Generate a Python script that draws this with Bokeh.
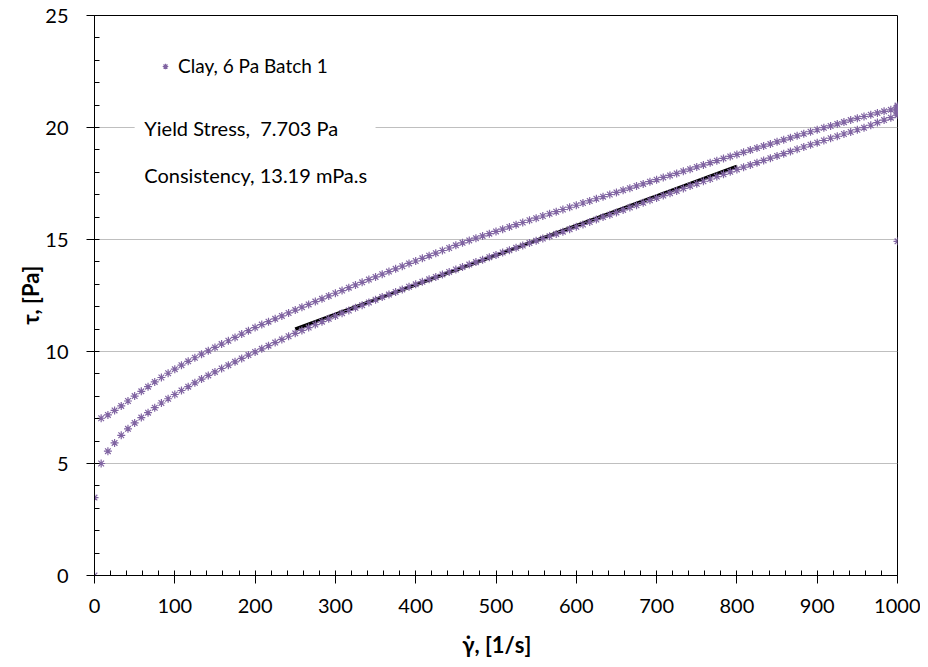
from bokeh.plotting import figure
from bokeh.models import (Range1d, SingleIntervalTicker, ColumnDataSource, Legend, LegendItem,
                          Label, BoxAnnotation)
from bokeh.embed import file_html
from bokeh.resources import INLINE

# ---- data ----
rate = [8.3, 16.7, 25.0, 33.3, 41.7, 50.0, 58.3, 66.7, 75.0, 83.3,
        91.7, 100.0, 108.3, 116.7, 125.0, 133.3, 141.7, 150.0, 158.3, 166.7,
        175.0, 183.3, 191.7, 200.0, 208.3, 216.7, 225.0, 233.3, 241.7, 250.0,
        258.3, 266.7, 275.0, 283.3, 291.7, 300.0, 308.3, 316.7, 325.0, 333.3,
        341.7, 350.0, 358.3, 366.7, 375.0, 383.3, 391.7, 400.0, 408.3, 416.7,
        425.0, 433.3, 441.7, 450.0, 458.3, 466.7, 475.0, 483.3, 491.7, 500.0,
        508.3, 516.7, 525.0, 533.3, 541.7, 550.0, 558.3, 566.7, 575.0, 583.3,
        591.7, 600.0, 608.3, 616.7, 625.0, 633.3, 641.7, 650.0, 658.3, 666.7,
        675.0, 683.3, 691.7, 700.0, 708.3, 716.7, 725.0, 733.3, 741.7, 750.0,
        758.3, 766.7, 775.0, 783.3, 791.7, 800.0, 808.3, 816.7, 825.0, 833.3,
        841.7, 850.0, 858.3, 866.7, 875.0, 883.3, 891.7, 900.0, 908.3, 916.7,
        925.0, 933.3, 941.7, 950.0, 958.3, 966.7, 975.0, 983.3, 991.7, 1000.0]

stress_up = [5.00, 5.55, 5.92, 6.26, 6.55, 6.81, 7.05, 7.27, 7.49, 7.70,
             7.89, 8.08, 8.26, 8.43, 8.60, 8.77, 8.93, 9.09, 9.24, 9.39,
             9.54, 9.69, 9.84, 9.98, 10.12, 10.26, 10.40, 10.54, 10.68, 10.81,
             10.94, 11.07, 11.20, 11.33, 11.46, 11.59, 11.71, 11.83, 11.95, 12.07,
             12.19, 12.31, 12.43, 12.54, 12.66, 12.77, 12.89, 13.00, 13.11, 13.22,
             13.33, 13.44, 13.55, 13.66, 13.77, 13.88, 13.99, 14.10, 14.21, 14.31,
             14.42, 14.52, 14.63, 14.73, 14.84, 14.94, 15.04, 15.15, 15.25, 15.35,
             15.46, 15.57, 15.67, 15.78, 15.89, 16.00, 16.10, 16.21, 16.32, 16.43,
             16.53, 16.64, 16.75, 16.85, 16.96, 17.07, 17.17, 17.28, 17.39, 17.49,
             17.60, 17.70, 17.81, 17.91, 18.02, 18.13, 18.23, 18.33, 18.43, 18.53,
             18.63, 18.73, 18.83, 18.93, 19.03, 19.13, 19.23, 19.32, 19.42, 19.52,
             19.61, 19.71, 19.80, 19.90, 19.99, 20.10, 20.22, 20.33, 20.44, 20.55]

stress_down = [7.02, 7.17, 7.37, 7.57, 7.79, 8.01, 8.22, 8.43, 8.64, 8.84,
               9.03, 9.21, 9.39, 9.56, 9.72, 9.88, 10.03, 10.18, 10.33, 10.48,
               10.63, 10.78, 10.93, 11.07, 11.20, 11.33, 11.46, 11.59, 11.72, 11.85,
               11.98, 12.10, 12.23, 12.35, 12.48, 12.60, 12.72, 12.85, 12.97, 13.09,
               13.21, 13.33, 13.45, 13.57, 13.69, 13.81, 13.93, 14.04, 14.16, 14.28,
               14.39, 14.51, 14.62, 14.74, 14.85, 14.96, 15.06, 15.16, 15.26, 15.36,
               15.46, 15.56, 15.66, 15.76, 15.86, 15.95, 16.05, 16.15, 16.24, 16.34,
               16.44, 16.53, 16.63, 16.72, 16.82, 16.91, 17.01, 17.10, 17.20, 17.29,
               17.39, 17.48, 17.58, 17.67, 17.77, 17.86, 17.95, 18.05, 18.14, 18.24,
               18.33, 18.43, 18.52, 18.62, 18.71, 18.80, 18.89, 18.99, 19.08, 19.17,
               19.26, 19.36, 19.45, 19.54, 19.63, 19.72, 19.81, 19.90, 19.99, 20.07,
               20.16, 20.24, 20.33, 20.41, 20.49, 20.57, 20.65, 20.72, 20.79, 20.86]

start_rate = [0.0, 0.0]
start_stress = [0.0, 3.48]
hold_rate = [1000.0, 1000.0, 1000.0, 1000.0, 1000.0, 1000.0, 1000.0, 1000.0]
hold_stress = [20.62, 20.68, 20.74, 20.80, 20.86, 20.92, 20.98, 14.92]

fit_rate = [250.0, 800.0]
fit_stress = [11.0, 18.26]

series_name = "Clay, 6 Pa Batch 1"
yield_text = "Yield Stress,\u00a0 7.703 Pa"
consistency_text = "Consistency, 13.19 mPa.s"

# ---- figure ----
FONT = "Lato"
PURPLE = "#8064A2"

p = figure(width=920, height=660, output_backend="svg", toolbar_location=None,
           x_range=Range1d(0, 1000), y_range=Range1d(0, 25),
           min_border_left=94, min_border_right=23, min_border_top=15, min_border_bottom=85)
p.background_fill_color = "white"
p.border_fill_color = "white"
p.outline_line_color = "black"
p.outline_line_width = 1

# grid
p.xgrid.visible = False
p.ygrid.grid_line_color = "#BFBFBF"
p.ygrid.grid_line_width = 1

# axes
p.xaxis.ticker = SingleIntervalTicker(interval=100, num_minor_ticks=5)
p.yaxis.ticker = SingleIntervalTicker(interval=5, num_minor_ticks=5)
for ax in (p.xaxis[0], p.yaxis[0]):
    ax.axis_line_color = "black"
    ax.major_tick_line_color = "black"
    ax.minor_tick_line_color = "black"
    ax.major_tick_in = 0
    ax.major_tick_out = 8
    ax.minor_tick_in = 5
    ax.minor_tick_out = 0
    ax.major_label_text_font = FONT
    ax.major_label_text_font_size = "20px"
    ax.major_label_text_color = "black"
    ax.axis_label_text_font = FONT
    ax.axis_label_text_font_size = "22px"
    ax.axis_label_text_font_style = "bold"
    ax.axis_label_text_color = "black"
p.xaxis.major_label_standoff = 15
p.yaxis.major_label_standoff = 18
p.xaxis.axis_label = "\u03b3\u0307, [1/s]"
p.yaxis.axis_label = "\u03c4, [Pa]"
p.xaxis.axis_label_standoff = 15
p.yaxis.axis_label_standoff = -2

# fit line (under markers)
p.line(fit_rate, fit_stress, line_color="black", line_width=3.5)

all_rate = start_rate + rate + hold_rate + rate[::-1]
all_stress = start_stress + stress_up + hold_stress + stress_down[::-1]
src = ColumnDataSource(dict(x=all_rate, y=all_stress))
r = p.scatter("x", "y", source=src, marker="asterisk", size=8,
              line_color=PURPLE, line_width=1.2)

# text boxes (white background hides the gridline behind them)
p.add_layout(BoxAnnotation(left=50, right=350, bottom=19.5, top=20.5,
                           fill_color="white", fill_alpha=1, line_alpha=0))
p.add_layout(Label(x=62, y=20.0, text=yield_text, text_font=FONT, text_font_size="20px",
                   text_baseline="middle", text_color="black"))
p.add_layout(Label(x=62, y=17.9, text=consistency_text, text_font=FONT, text_font_size="20px",
                   text_baseline="middle", text_color="black"))

legend = Legend(items=[LegendItem(label=series_name, renderers=[r])],
                location=(64, 498), padding=0, margin=0, spacing=0,
                glyph_width=14, glyph_height=14, label_height=14, label_standoff=6,
                label_text_font=FONT, label_text_font_size="19px", label_text_color="black",
                border_line_alpha=0, background_fill_alpha=0)
p.add_layout(legend)

open("out.html", "w").write(file_html(p, INLINE))
